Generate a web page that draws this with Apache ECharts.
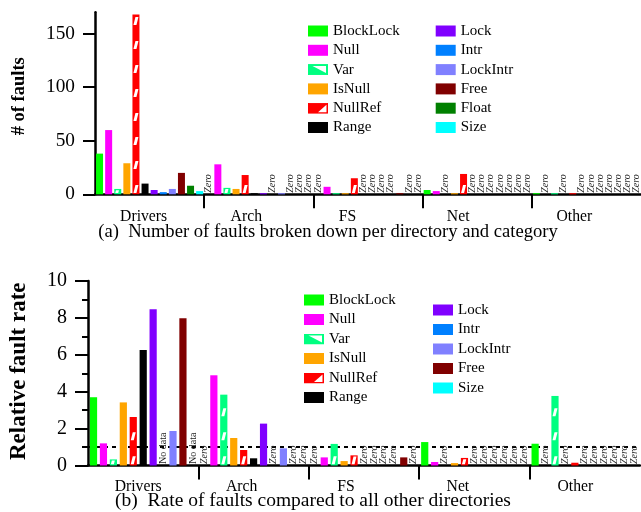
<!DOCTYPE html>
<html>
<head>
<meta charset="utf-8">
<script src="https://cdn.jsdelivr.net/npm/echarts@6/dist/echarts.min.js"></script>
<style>
  html, body { margin: 0; padding: 0; background: #fff; }
  #chart { width: 641px; height: 512px; }
</style>
</head>
<body>
<div id="chart"></div>
<script>
// ---- data ----
const directories = ['Drivers', 'Arch', 'FS', 'Net', 'Other'];
const countKinds = ['BlockLock', 'Null', 'Var', 'IsNull', 'NullRef', 'Range', 'Lock', 'Intr', 'LockIntr', 'Free', 'Float', 'Size'];
const rateKinds = ['BlockLock', 'Null', 'Var', 'IsNull', 'NullRef', 'Range', 'Lock', 'Intr', 'LockIntr', 'Free', 'Size'];

// (a) number of faults, one array per directory, in countKinds order
const countsDrivers = [38, 60, 5, 29, 168, 10, 4, 2, 5, 20, 8, 3];
const countsArch    = [0, 28, 6, 5, 18, 1, 1, 0, 1, 0, 0, 0];
const countsFS      = [0, 7, 1, 1, 15, 0, 0, 0, 0, 1, 0, 0];
const countsNet     = [4, 3, 0, 1, 19, 0, 0, 0, 0, 0, 0, 0];
const countsOther   = [1, 0, 1, 0, 1, 0, 0, 0, 0, 0, 0, 0];

// (b) relative fault rate, in rateKinds order; null = no data
const ratesDrivers = [3.70, 1.20, 0.33, 3.42, 2.63, 6.26, 8.47, null, 1.87, 7.98, null];
const ratesArch    = [0, 4.89, 3.84, 1.49, 0.84, 0.39, 2.27, 0, 0.93, 0, 0];
const ratesFS      = [0, 0.44, 1.17, 0.24, 0.55, 0, 0, 0, 0, 0.44, 0];
const ratesNet     = [1.27, 0.19, 0, 0.13, 0.41, 0, 0, 0, 0, 0, 0];
const ratesOther   = [1.18, 0, 3.77, 0, 0.15, 0, 0, 0, 0, 0, 0];

const countTicks = [0, 50, 100, 150];
const countMinorTicks = [25, 75, 125];
const countMax = 170;
const rateMax = 10;
const rateBaseline = 1;

const captionA = '(a)  Number of faults broken down per directory and category';
const captionB = '(b)  Rate of faults compared to all other directories';

// ---- styling ----
const SERIF = "'Liberation Serif', 'Times New Roman', serif";
const kindColors = {
  BlockLock: '#00ff00', Null: '#ff00ff', Var: '#00ff80', IsNull: '#ffa500',
  NullRef: '#ff0000', Range: '#000000', Lock: '#8000ff', Intr: '#0080ff',
  LockIntr: '#8080ff', Free: '#800000', Float: '#008000', Size: '#00ffff'
};
const hatchedKinds = ['Var', 'NullRef'];

const countRows = [countsDrivers, countsArch, countsFS, countsNet, countsOther];
const rateRows = [ratesDrivers, ratesArch, ratesFS, ratesNet, ratesOther];

// bar geometry per panel
const TOP = { bw: 7, gapRatio: 0.3 };
const BOT = { bw: 7.2, gapRatio: 0.38 };

// horizontal nudges of the directory names under each panel
const nameShiftTop = [-6, -12.5, -20.5, -19, -12];
const nameShiftBot = [-5, -12, -18, -16.5, -9.5];

function richShift(shifts) {
  const rich = {};
  shifts.forEach((s, i) => {
    rich['d' + i] = {
      fontFamily: SERIF, fontSize: 15.7, color: '#000',
      padding: s < 0 ? [0, -2 * s, 0, 0] : [0, 0, 0, 2 * s]
    };
  });
  return rich;
}

function svgIcon(kind) {
  const c = kindColors[kind].replace('#', '%23');
  const tri = kind === 'Var' ? '4.5,2 18,2 18,9' : '10,9.5 18.5,9.5 18.5,2';
  return 'image://data:image/svg+xml;charset=utf-8,' +
    "<svg xmlns='http://www.w3.org/2000/svg' width='20' height='11'>" +
    "<rect x='0.5' y='0.5' width='19' height='10' fill='" + c + "' stroke='" + c + "'/>" +
    "<polygon points='" + tri + "' fill='white'/></svg>";
}

function legendData(names) {
  return names.map(n => hatchedKinds.includes(n) ? { name: n, icon: svgIcon(n) } : { name: n });
}

const zeroLabel = {
  show: true, position: 'insideBottom', rotate: 90, align: 'left', verticalAlign: 'middle',
  distance: 1.5, fontFamily: SERIF, fontStyle: 'italic', fontSize: 10, color: '#222',
  formatter: p => (p.value === 0 ? 'Zero' : '')
};

// white slash marks drawn over a hatched bar, following the bar layout of its panel
function hatchRenderer(n, k, geo) {
  return function (params, api) {
    const v = api.value(1);
    if (!v) return;
    const base = api.coord([api.value(0), 0]);
    const top = api.coord([api.value(0), v]);
    const gap = geo.bw * geo.gapRatio;
    const total = n * geo.bw + (n - 1) * gap;
    const cx = base[0] - total / 2 + k * (geo.bw + gap) + geo.bw / 2;
    const yTop = top[1] + 1.2;
    const children = [];
    for (let yb = base[1] - 1.2; yb - 1 > yTop; yb -= 24) {
      const yt = Math.max(yb - 8, yTop);
      const s = 2 * (yb - yt) / 8;
      children.push({
        type: 'polygon',
        shape: { points: [[cx - 2.5, yb], [cx + 0.5, yb], [cx + 0.5 + s, yt], [cx - 2.5 + s, yt]] },
        style: { fill: '#fff' }
      });
    }
    return { type: 'group', children };
  };
}

const series = [];

// panel (a)
countKinds.forEach((kind, k) => {
  const values = countRows.map(row => row[k]);
  series.push({
    name: kind, type: 'bar', xAxisIndex: 0, yAxisIndex: 0,
    barWidth: TOP.bw, barGap: (TOP.gapRatio * 100) + '%',
    itemStyle: { color: kindColors[kind] },
    label: zeroLabel,
    data: values
  });
  if (hatchedKinds.includes(kind)) {
    series.push({
      type: 'custom', xAxisIndex: 0, yAxisIndex: 0, z: 3, silent: true,
      renderItem: hatchRenderer(countKinds.length, k, TOP),
      encode: { x: 0, y: 1 },
      data: values.map((v, i) => [i, v])
    });
  }
});

// panel (b)
rateKinds.forEach((kind, k) => {
  const values = rateRows.map(row => row[k]);
  const s = {
    name: kind, type: 'bar', xAxisIndex: 1, yAxisIndex: 2,
    barWidth: BOT.bw, barGap: (BOT.gapRatio * 100) + '%',
    itemStyle: { color: kindColors[kind] },
    label: zeroLabel,
    data: values.map(v => v === null
      ? { value: 0, label: { formatter: 'No data', fontStyle: 'normal' } }
      : v)
  };
  if (k === 0) {
    s.markLine = {
      silent: true, symbol: 'none', z: 1,
      label: { show: false },
      lineStyle: { color: '#000', type: [4, 4], width: 2 },
      data: [{ yAxis: rateBaseline }]
    };
  }
  series.push(s);
  if (hatchedKinds.includes(kind)) {
    series.push({
      type: 'custom', xAxisIndex: 1, yAxisIndex: 2, z: 3, silent: true,
      renderItem: hatchRenderer(rateKinds.length, k, BOT),
      encode: { x: 0, y: 1 },
      data: values.map((v, i) => [i, v || 0])
    });
  }
});

const axisLineStyle = { color: '#000', width: 2.5 };
const tickStyle = { color: '#000', width: 2 };

function catAxis(gridIndex, shifts, margin) {
  return {
    type: 'category', gridIndex, data: directories, boundaryGap: true,
    axisLine: { show: true, lineStyle: axisLineStyle },
    axisTick: { show: false },
    axisLabel: {
      margin, interval: 0,
      formatter: (val, i) => '{d' + i + '|' + val + '}',
      rich: richShift(shifts)
    },
    splitLine: { show: false }
  };
}

// companion axis carrying only the separator ticks between directories
const separatorValues = directories.slice(1).map((d, i) => i + 1);
function separatorAxis(gridIndex) {
  return {
    type: 'value', gridIndex, position: 'bottom', min: 0, max: directories.length,
    axisLine: { show: false },
    axisTick: { show: true, length: 14, lineStyle: tickStyle, customValues: separatorValues },
    axisLabel: { show: false },
    splitLine: { show: false }
  };
}

const legendText = { fontFamily: SERIF, fontSize: 15, color: '#000', lineHeight: 15 };
function legend(names, left, top, gap) {
  return {
    orient: 'vertical', left, top, itemWidth: 20, itemHeight: 11, itemGap: gap,
    icon: 'rect', textStyle: legendText, selectedMode: false,
    data: legendData(names)
  };
}

const option = {
  backgroundColor: '#fff',
  animation: false,
  grid: [
    { left: 95, right: 0, top: 12.3, height: 182 },
    { left: 88, right: 1, top: 281, height: 184.5 }
  ],
  xAxis: [
    catAxis(0, nameShiftTop, 15), catAxis(1, nameShiftBot, 13.5),
    separatorAxis(0), separatorAxis(1)
  ],
  yAxis: [
    {
      type: 'value', gridIndex: 0, min: 0, max: countMax,
      name: '# of faults', nameLocation: 'middle', nameGap: 66,
      nameTextStyle: { fontFamily: SERIF, fontWeight: 'bold', fontSize: 18.5, color: '#000', padding: [0, 0, 0, 14] },
      axisLine: { show: true, lineStyle: axisLineStyle },
      axisTick: { show: true, length: 12, lineStyle: tickStyle, customValues: countTicks },
      axisLabel: { fontFamily: SERIF, fontSize: 19.3, color: '#000', margin: 20, customValues: countTicks },
      splitLine: { show: false }
    },
    {
      type: 'value', gridIndex: 0, min: 0, max: countMax,
      axisLine: { show: false },
      axisTick: { show: true, length: 5, lineStyle: tickStyle, customValues: countMinorTicks },
      axisLabel: { show: false },
      splitLine: { show: false }
    },
    {
      type: 'value', gridIndex: 1, min: 0, max: rateMax, interval: 2,
      name: 'Relative fault rate', nameLocation: 'middle', nameGap: 57,
      nameTextStyle: { fontFamily: SERIF, fontWeight: 'bold', fontSize: 23, color: '#000', padding: [0, 0, 0, 4] },
      axisLine: { show: true, lineStyle: axisLineStyle },
      axisTick: { show: true, length: 13, lineStyle: tickStyle },
      minorTick: { show: true, splitNumber: 2, length: 6, lineStyle: tickStyle },
      axisLabel: { fontFamily: SERIF, fontSize: 20, color: '#000', margin: 21 },
      splitLine: { show: false }
    }
  ],
  legend: [
    legend(countKinds.slice(0, 6), 303, 18.5, 4.3),
    legend(countKinds.slice(6), 430.7, 18.5, 4.3),
    legend(rateKinds.slice(0, 6), 299, 287.5, 4.5),
    legend(rateKinds.slice(6), 428, 297.5, 4.5)
  ],
  graphic: [
    { type: 'text', x: 328, y: 232, style: { text: captionA, align: 'center', verticalAlign: 'middle', font: '18.6px ' + SERIF, fill: '#000' } },
    { type: 'text', x: 313, y: 501, style: { text: captionB, align: 'center', verticalAlign: 'middle', font: '19.5px ' + SERIF, fill: '#000' } }
  ],
  series
};

const chart = echarts.init(document.getElementById('chart'), null, { renderer: 'canvas' });
chart.setOption(option);
</script>
</body>
</html>
